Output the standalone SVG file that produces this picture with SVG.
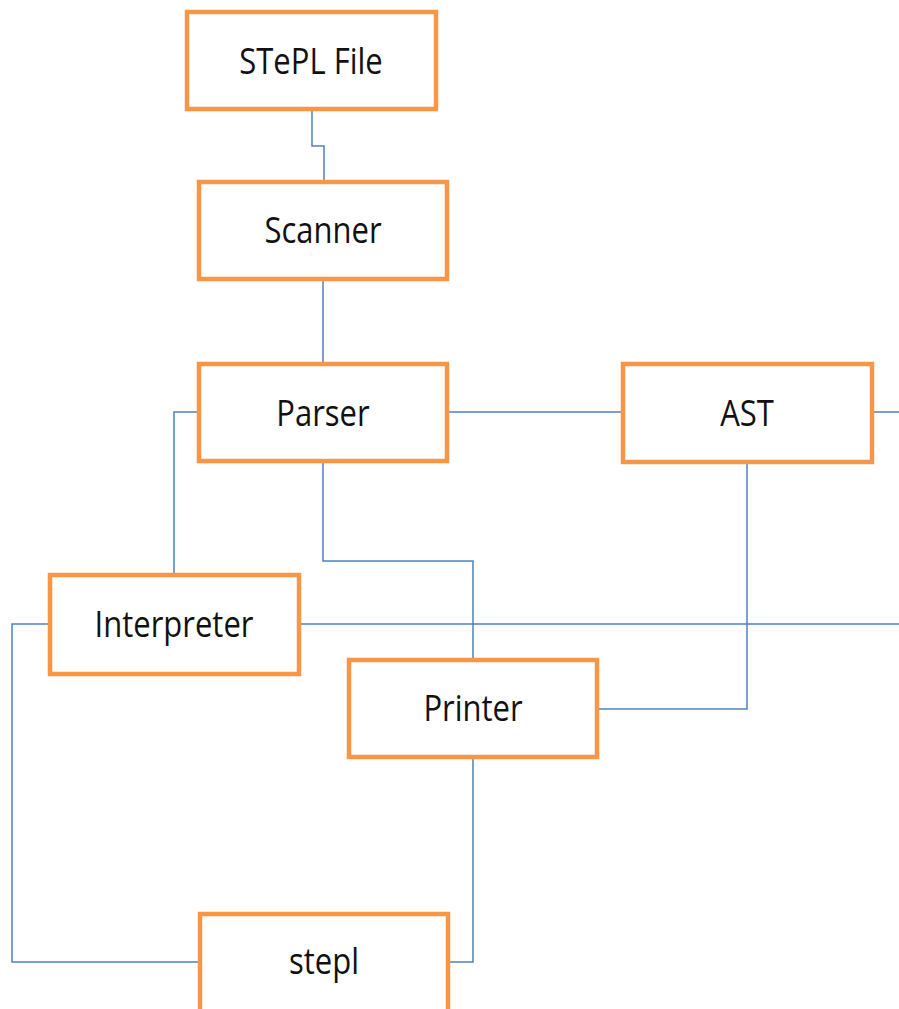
<svg xmlns="http://www.w3.org/2000/svg" width="899" height="1009" viewBox="0 0 899 1009">
<style>
.box{fill:#fff;stroke:#F79646;stroke-width:4.5}
.lbl{font-family:"Open Sans","Liberation Sans",sans-serif;font-size:31px;fill:#111;text-anchor:middle}
.c{fill:none;stroke:#4F81BD;stroke-width:1.5}
</style>
<rect width="899" height="1009" fill="#fff"/>
<g id="connectors">
<path class="c" d="M312,110 V146 H324 V180"/>
<path class="c" d="M323,280 V362"/>
<path class="c" d="M197,412 H174 V573"/>
<path class="c" d="M323,463 V561 H473 V658"/>
<path class="c" d="M449,412 H621"/>
<path class="c" d="M874,412 H899"/>
<path class="c" d="M747,464 V709 H599"/>
<path class="c" d="M301,624 H899"/>
<path class="c" d="M48,624 H12 V962 H198"/>
<path class="c" d="M473,759 V962 H450"/>
</g>
<g id="stepl-file"><rect class="box" x="187" y="12" width="249" height="97"/><text class="lbl" transform="translate(311,74) scale(1,1.2)">STePL File</text></g>
<g id="scanner"><rect class="box" x="199" y="182" width="248" height="97"/><text class="lbl" transform="translate(323,243) scale(1,1.2)">Scanner</text></g>
<g id="parser"><rect class="box" x="199" y="364" width="248" height="97"/><text class="lbl" transform="translate(323,426) scale(1,1.2)">Parser</text></g>
<g id="ast"><rect class="box" x="623" y="364" width="249" height="98"/><text class="lbl" transform="translate(747,426) scale(1,1.2)">AST</text></g>
<g id="interpreter"><rect class="box" x="50" y="575" width="249" height="99"/><text class="lbl" transform="translate(174,637) scale(1,1.2)">Interpreter</text></g>
<g id="printer"><rect class="box" x="349" y="660" width="248" height="97"/><text class="lbl" transform="translate(473,721) scale(1,1.2)">Printer</text></g>
<g id="stepl"><rect class="box" x="200" y="914" width="248" height="98"/><text class="lbl" transform="translate(324,974) scale(1,1.2)">stepl</text></g>
</svg>
